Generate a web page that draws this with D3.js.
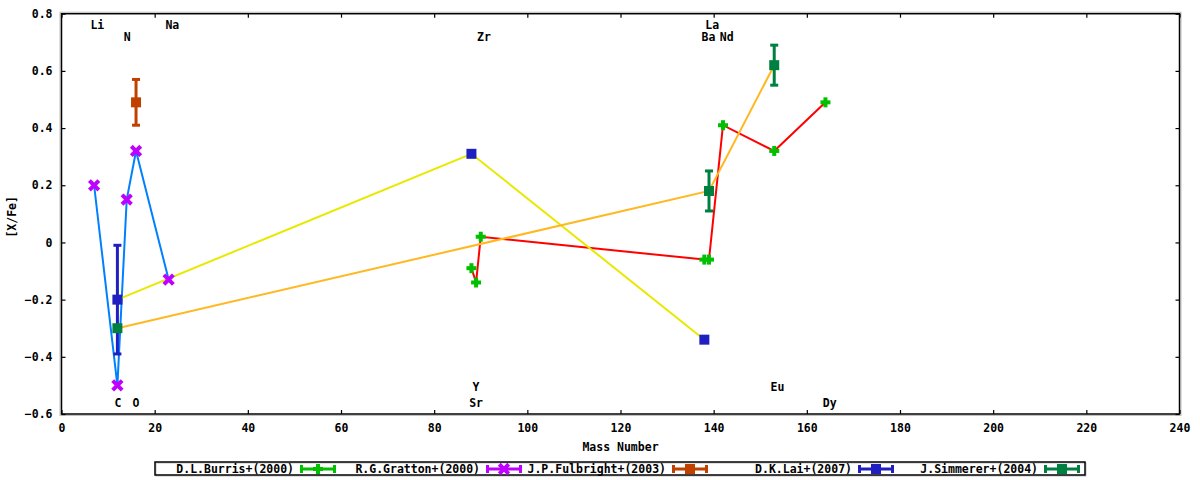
<!DOCTYPE html>
<html lang="en">
<head>
  <meta charset="UTF-8">
  <title>[X/Fe] vs Mass Number</title>
  <script src="https://d3js.org/d3.v7.min.js"></script>
  <style>
    body { margin: 0; background: #fff; }
    svg { display: block; }
    text { font-family: 'DejaVu Sans Mono', monospace; font-weight: bold; font-size: 11.5px; fill: #000; }
  </style>
</head>
<body>
<svg width="1200" height="480"></svg>
<script>
  // ---- data ----
  const burrisMass = [88, 89, 90, 138, 139, 142, 153, 164];
  const burrisVal  = [-0.09, -0.14, 0.02, -0.06, -0.06, 0.41, 0.32, 0.49];

  const grattonMass = [7, 12, 14, 16, 23];
  const grattonVal  = [0.20, -0.50, 0.15, 0.32, -0.13];

  const fulbrightMass = [16];
  const fulbrightVal  = [0.49];
  const fulbrightErr  = [0.08];

  const laiMass = [12, 88, 138];
  const laiVal  = [-0.20, 0.31, -0.34];
  const laiErr  = [0.19, null, null];

  const simmererMass = [12, 139, 153];
  const simmererVal  = [-0.30, 0.18, 0.62];
  const simmererErr  = [null, 0.07, 0.07];

  const seriesNames = ["D.L.Burris+(2000)", "R.G.Gratton+(2000)", "J.P.Fulbright+(2003)", "D.K.Lai+(2007)", "J.Simmerer+(2004)"];

  const elemText = ["Li", "N", "Na", "Zr", "La", "Ba", "Nd", "C", "O", "Y", "Sr", "Eu", "Dy"];
  const elemMass = [7.7, 14.1, 23.8, 90.7, 139.7, 138.9, 142.8, 12.1, 16.0, 89.0, 89.0, 153.7, 164.9];
  const elemVal  = [0.758, 0.716, 0.758, 0.716, 0.758, 0.716, 0.716, -0.562, -0.562, -0.506, -0.562, -0.506, -0.562];

  const xTicks = [0, 20, 40, 60, 80, 100, 120, 140, 160, 180, 200, 220, 240];
  const yTicks = [-0.6, -0.4, -0.2, 0, 0.2, 0.4, 0.6, 0.8];

  // ---- layout ----
  const plot = {left: 61.5, right: 1179.5, top: 13.7, bottom: 414};
  const svg = d3.select("svg");

  const x = d3.scaleLinear().domain([0, 240]).range([plot.left, plot.right]);
  const y = d3.scaleLinear().domain([-0.6, 0.8]).range([plot.bottom, plot.top]);

  const markerColor = ["#00c000", "#c000ff", "#c04000", "#2020c0", "#008040"];
  const lineColor = {burris: "#ff0000", gratton: "#0080ff", lai: "#e8e800", simmerer: "#ffb820"};

  // frame with gnuplot-like shadow
  svg.append("rect")
    .attr("x", plot.left - 1.5).attr("y", plot.top - 1.5)
    .attr("width", plot.right - plot.left + 3).attr("height", plot.bottom - plot.top + 3)
    .attr("fill", "none").attr("stroke", "#c0c0c0").attr("stroke-width", 1);
  svg.append("rect")
    .attr("x", plot.left).attr("y", plot.top)
    .attr("width", plot.right - plot.left).attr("height", plot.bottom - plot.top)
    .attr("fill", "none").attr("stroke", "#000").attr("stroke-width", 1.5);

  // axes: inward ticks, mirrored
  const axB = svg.append("g").attr("transform", `translate(0,${plot.bottom})`)
    .call(d3.axisBottom(x).tickValues(xTicks).tickSize(-4).tickPadding(10).tickFormat(d3.format("d")));
  const axT = svg.append("g").attr("transform", `translate(0,${plot.top})`)
    .call(d3.axisTop(x).tickValues(xTicks).tickSize(-4).tickFormat(""));
  const axL = svg.append("g").attr("transform", `translate(${plot.left},0)`)
    .call(d3.axisLeft(y).tickValues(yTicks).tickSize(-4).tickPadding(9).tickFormat(d => d === 0 ? "0" : d3.format(".1f")(d)));
  const axR = svg.append("g").attr("transform", `translate(${plot.right},0)`)
    .call(d3.axisRight(y).tickValues(yTicks).tickSize(-4).tickFormat(""));
  [axB, axT, axL, axR].forEach(g => {
    g.select(".domain").remove();
    g.selectAll(".tick line").attr("stroke", "#000").attr("stroke-width", 1.2);
    g.selectAll("text").attr("font-family", null).attr("font-size", null);
  });
  axB.selectAll("text").attr("dy", "0.35em").attr("y", 14);

  // axis titles
  svg.append("text").attr("x", (plot.left + plot.right) / 2).attr("y", 447)
    .attr("text-anchor", "middle").attr("dominant-baseline", "middle").text("Mass Number");
  svg.append("text").attr("transform", `translate(12,${(plot.top + plot.bottom) / 2 + 3}) rotate(-90)`)
    .attr("text-anchor", "middle").attr("dominant-baseline", "middle").text("[X/Fe]");

  // element labels
  svg.append("g").selectAll("text").data(elemText).join("text")
    .attr("x", (d, i) => x(elemMass[i]))
    .attr("y", (d, i) => y(elemVal[i]))
    .attr("text-anchor", "middle").attr("dominant-baseline", "middle")
    .text(d => d);

  // connecting lines
  const line = d3.line().x(d => x(d[0])).y(d => y(d[1]));
  const lines = [
    [burrisMass, burrisVal, lineColor.burris],
    [grattonMass, grattonVal, lineColor.gratton],
    [laiMass, laiVal, lineColor.lai],
    [simmererMass, simmererVal, lineColor.simmerer]
  ];
  lines.forEach(([m, v, c]) => {
    svg.append("path").datum(m.map((d, i) => [d, v[i]]))
      .attr("d", line).attr("fill", "none").attr("stroke", c).attr("stroke-width", 2);
  });

  // markers
  function drawMarker(g, type, cx, cy, color) {
    if (type === "plus") {
      g.append("rect").attr("x", cx - 5).attr("y", cy - 2).attr("width", 10).attr("height", 4).attr("fill", color);
      g.append("rect").attr("x", cx - 2).attr("y", cy - 5).attr("width", 4).attr("height", 10).attr("fill", color);
    } else if (type === "cross") {
      g.append("path").attr("d", `M${cx - 3.3},${cy - 3.3}L${cx + 3.3},${cy + 3.3}M${cx - 3.3},${cy + 3.3}L${cx + 3.3},${cy - 3.3}`)
        .attr("stroke", color).attr("stroke-width", 4).attr("stroke-linecap", "square");
    } else {
      g.append("rect").attr("x", cx - 5).attr("y", cy - 5).attr("width", 10).attr("height", 10).attr("fill", color);
    }
  }
  function drawErr(g, cx, v, e, color) {
    const y0 = y(v - e), y1 = y(v + e);
    g.append("line").attr("x1", cx).attr("x2", cx).attr("y1", y0).attr("y2", y1).attr("stroke", color).attr("stroke-width", 3);
    [y0, y1].forEach(yy => g.append("line").attr("x1", cx - 4).attr("x2", cx + 4).attr("y1", yy).attr("y2", yy)
      .attr("stroke", color).attr("stroke-width", 3));
  }

  const pts = [
    [burrisMass, burrisVal, null, "plus"],
    [grattonMass, grattonVal, null, "cross"],
    [fulbrightMass, fulbrightVal, fulbrightErr, "square"],
    [laiMass, laiVal, laiErr, "square"],
    [simmererMass, simmererVal, simmererErr, "square"]
  ];
  const mk = svg.append("g");
  pts.forEach(([m, v, e, type], s) => {
    m.forEach((d, i) => {
      if (e && e[i] != null) drawErr(mk, x(d), v[i], e[i], markerColor[s]);
      drawMarker(mk, type, x(d), y(v[i]), markerColor[s]);
    });
  });

  // legend
  const leg = svg.append("g");
  leg.append("rect").attr("x", 156).attr("y", 463).attr("width", 930).attr("height", 13)
    .attr("fill", "none").attr("stroke", "#c0c0c0").attr("stroke-width", 1);
  leg.append("rect").attr("x", 155).attr("y", 462).attr("width", 930).attr("height", 13)
    .attr("fill", "none").attr("stroke", "#000").attr("stroke-width", 1.5);
  seriesNames.forEach((name, i) => {
    const sx = 300 + 186 * i, cy = 469;
    const c = markerColor[i];
    leg.append("text").attr("x", sx - 6).attr("y", cy).attr("text-anchor", "end")
      .attr("dominant-baseline", "middle").text(name);
    leg.append("line").attr("x1", sx).attr("x2", sx + 36).attr("y1", cy).attr("y2", cy).attr("stroke", c).attr("stroke-width", 3);
    [sx + 1.5, sx + 34.5].forEach(xx => leg.append("line").attr("x1", xx).attr("x2", xx)
      .attr("y1", cy - 4).attr("y2", cy + 4).attr("stroke", c).attr("stroke-width", 3));
    drawMarker(leg, pts[i][3], sx + 18, cy, c);
  });
</script>
</body>
</html>
